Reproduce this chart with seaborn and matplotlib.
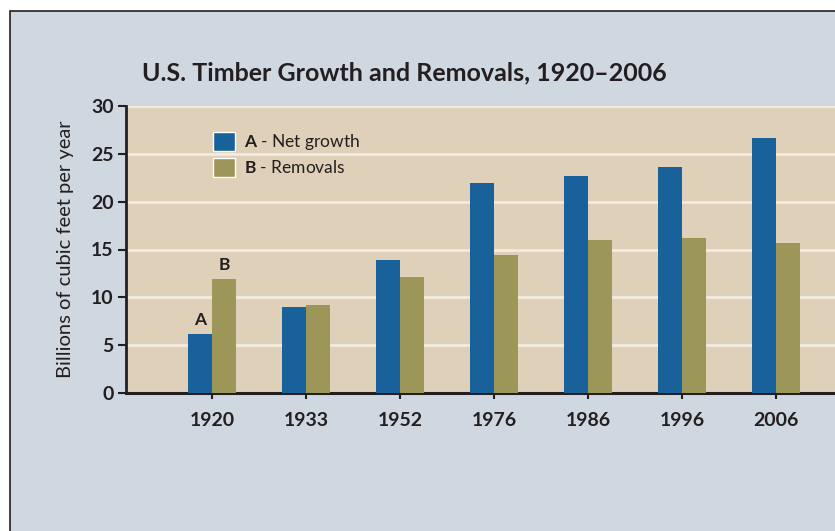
import matplotlib
matplotlib.use("Agg")
import matplotlib.pyplot as plt
import matplotlib.patches as mpatches
import seaborn as sns
import pandas as pd

# values (billions of cubic feet per year)
years = ["1920", "1933", "1952", "1976", "1986", "1996", "2006"]
net_growth = [6.2, 9.0, 13.9, 21.9, 22.7, 23.6, 26.7]
removals = [11.9, 9.2, 12.1, 14.4, 16.0, 16.2, 15.7]
series_names = ["A - Net growth", "B - Removals"]
y_ticks = [0, 5, 10, 15, 20, 25, 30]

BLUE = "#18619B"
OLIVE = "#9D9659"
TAN = "#DFD0B9"
BG = "#CFD8E1"
INK = "#231F20"

sns.set_style("white")
plt.rcParams["font.family"] = ["Lato", "DejaVu Sans"]
plt.rcParams["mathtext.fontset"] = "custom"
plt.rcParams["mathtext.bf"] = "Lato:bold"
plt.rcParams["mathtext.rm"] = "Lato"

df = pd.DataFrame({
    "year": years * 2,
    "value": net_growth + removals,
    "series": [series_names[0]] * len(years) + [series_names[1]] * len(years),
})

fig = plt.figure(figsize=(8.35, 5.31), dpi=100)
fig.patch.set_facecolor("white")
# framed panel behind the chart
fig.patches.append(mpatches.Rectangle((10 / 835, -0.1), 1.2, 1 - 11 / 531 + 0.1,
                                      transform=fig.transFigure, facecolor=BG,
                                      edgecolor=INK, linewidth=1.2, zorder=-5))

ax = fig.add_axes([126 / 835, 1 - 393 / 531, 1 - 126 / 835, 287 / 531])
ax.set_zorder(2)
ax.set_facecolor(TAN)

sns.barplot(data=df, x="year", y="value", hue="series", order=years,
            hue_order=series_names, palette=[BLUE, OLIVE],
            width=0.51, gap=0, saturation=1, edgecolor="none", linewidth=0,
            ax=ax, zorder=3)

ax.set_ylim(0, 30)
ax.set_xlim(-0.915, 6.63)
ax.set_yticks(y_ticks)
ax.grid(axis="y", color="#F3EBDF", linewidth=2, zorder=1)
ax.set_axisbelow(True)

for side in ["top", "right"]:
    ax.spines[side].set_visible(False)
ax.spines["left"].set_color(INK)
ax.spines["left"].set_linewidth(2)
ax.spines["bottom"].set_color(INK)
ax.spines["bottom"].set_linewidth(2.2)

ax.tick_params(axis="y", direction="out", length=6, width=1.5, color=INK,
               labelsize=14, labelcolor=INK, pad=3, left=True)
ax.tick_params(axis="x", direction="out", length=4, width=1.5, color=INK,
               labelsize=14, labelcolor=INK, pad=10, bottom=True)
for lbl in ax.get_xticklabels() + ax.get_yticklabels():
    lbl.set_fontweight("bold")

ax.set_xlabel("")
ax.set_ylabel("Billions of cubic feet per year", fontsize=14.5, color=INK, labelpad=12)

# legend with bold letters
handles = [mpatches.Patch(facecolor=c, edgecolor="white", linewidth=1)
           for c in [BLUE, OLIVE]]
leg = ax.legend(handles, [r"$\bf{A}$ - Net growth", r"$\bf{B}$ - Removals"],
                loc="upper left", bbox_to_anchor=(0.1, 0.965), frameon=False,
                fontsize=12.5, handlelength=1.3, handleheight=1.3,
                handletextpad=0.5, labelspacing=0.35)
for t in leg.get_texts():
    t.set_color(INK)

# "A" and "B" markers over the 1920 bars
for cont, letter in zip(ax.containers, ["A", "B"]):
    bar = cont[0]
    ax.text(bar.get_x() + bar.get_width() / 2, bar.get_height() + 0.6, letter,
            ha="center", va="bottom", fontsize=12.5, fontweight="bold", color=INK)

fig.text(142 / 835, 1 - 73 / 531, "U.S. Timber Growth and Removals, 1920\u20132006",
         fontsize=18, fontweight="bold", color=INK, va="center", ha="left")

fig.savefig("out.png", dpi=100, facecolor=fig.get_facecolor())
